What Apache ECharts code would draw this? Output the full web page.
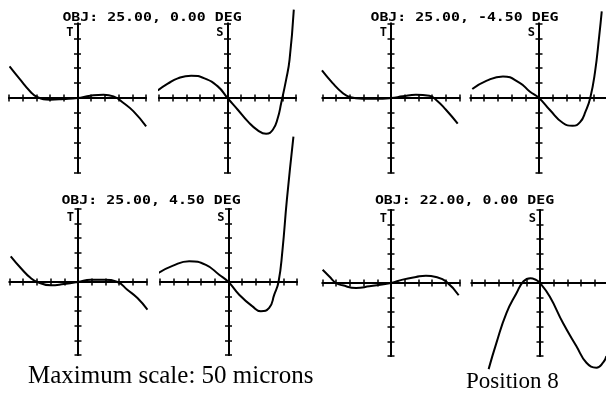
<!DOCTYPE html>
<html>
<head>
<meta charset="utf-8">
<script src="https://cdn.jsdelivr.net/npm/echarts@6/dist/echarts.min.js"></script>
<style>
  html, body { margin: 0; background: #fff; }
  #chart { width: 606px; height: 396px; }
</style>
</head>
<body>
<div id="chart"></div>
<script>
// ray fan samples: [relative pupil coordinate, ray error] in tick units
const fanT_25_0 = [[-4.96, 2.12], [-4.18, 1.23], [-3.45, 0.44], [-2.96, 0.07], [-1.99, -0.11], [-1.02, -0.07], [0, 0],
  [0.93, 0.15], [1.9, 0.22], [2.63, 0.11], [3.36, -0.34], [4.09, -0.9], [5.01, -1.9]];
const fanS_25_0 = [[-5.09, 0.51], [-4.36, 0.96], [-3.63, 1.32], [-2.65, 1.5], [-1.68, 1.32], [-0.71, 0.78], [0, 0],
  [0.75, -0.79], [1.48, -1.57], [2.21, -2.17], [2.82, -2.4], [3.31, -2.13], [3.67, -1.34], [3.92, -0.34],
  [4.28, 1.23], [4.53, 2.57], [4.84, 5.93]];

const fanT_25_m45 = [[-5.04, 1.85], [-4.26, 1.0], [-3.53, 0.34], [-3.04, 0.07], [-2.07, -0.05], [-1.09, -0.05], [0, 0],
  [0.85, 0.11], [1.82, 0.22], [2.8, 0.15], [3.28, -0.11], [4.01, -0.79], [4.87, -1.72]];
const fanS_25_m45 = [[-4.87, 0.6], [-3.85, 1.15], [-2.63, 1.45], [-1.41, 1.02], [-0.68, 0.44], [0, 0], [0.78, -0.79],
  [1.75, -1.68], [2.45, -1.86], [3.0, -1.62], [3.4, -0.9], [3.74, 0], [4.08, 1.68], [4.4, 4.2], [4.58, 5.81]];

const fanT_25_45 = [[-4.91, 1.76], [-4.18, 0.96], [-3.45, 0.27], [-2.96, 0], [-1.99, -0.23], [-1.02, -0.14], [0, 0],
  [0.93, 0.16], [1.9, 0.16], [2.88, 0], [3.6, -0.53], [4.34, -1.1], [5.07, -1.9]];
const fanS_25_45 = [[-5.11, 0.62], [-4.09, 1.1], [-2.87, 1.42], [-1.65, 1.17], [-0.68, 0.5], [0, 0], [0.78, -0.87],
  [1.75, -1.67], [2.36, -2.0], [2.97, -1.78], [3.34, -0.87], [3.65, 0], [3.94, 2.19], [4.26, 5.62], [4.74, 9.95]];

const fanT_22_0 = [[-4.99, 0.91], [-4.5, 0.45], [-4.01, 0], [-3.53, -0.16], [-2.55, -0.34], [-1.58, -0.23], [0, 0],
  [0.85, 0.23], [1.82, 0.41], [2.55, 0.5], [3.28, 0.41], [4.01, 0.11], [4.94, -0.84]];
const fanS_22_0 = [[-3.75, -5.9], [-3.18, -4.1], [-2.45, -2.06], [-1.72, -0.7], [-1.2, 0.12], [-0.7, 0.33], [-0.35, 0.24],
  [0, 0], [0.71, -0.93], [1.68, -2.74], [2.66, -4.33], [3.39, -5.46], [4.12, -5.8], [4.6, -5.46], [4.85, -5.0]];

const fieldLabels = ['OBJ: 25.00, 0.00 DEG', 'OBJ: 25.00, -4.50 DEG', 'OBJ: 25.00, 4.50 DEG', 'OBJ: 22.00, 0.00 DEG'];
const fanNames = ['T', 'S'];
const axisRange = [-5, 5];
const scaleNote = 'Maximum scale: 50 microns';
const positionNote = 'Position 8';

// layout of the four field panels (pixel boxes of each T / S plot)
const panels = [
  { lefts: [9, 159], top: 23.5, height: 149, label: [152, 17.5], fans: [fanT_25_0, fanS_25_0] },
  { lefts: [322.5, 470.5], top: 23.5, height: 149, label: [464.5, 17.5], fans: [fanT_25_m45, fanS_25_m45] },
  { lefts: [9.5, 160], top: 209, height: 146, label: [151, 201], fans: [fanT_25_45, fanS_25_45] },
  { lefts: [322.5, 471.5], top: 210, height: 146, label: [464.5, 201], fans: [fanT_22_0, fanS_22_0] }
];
const plotWidth = 137;

const ink = '#000';
const monoFont = '"DejaVu Sans Mono", monospace';

const grid = [];
const xAxis = [];
const yAxis = [];
const series = [];

function axesFor(dim, gridIndex, name) {
  const positions = dim === 'x' ? ['bottom', 'top'] : ['left', 'right'];
  // two identical axes with ticks on opposite sides -> ticks cross the line
  return positions.map((position, k) => ({
    type: 'value',
    gridIndex: gridIndex,
    position: position,
    min: axisRange[0],
    max: axisRange[1],
    interval: 1,
    axisLine: { show: true, onZero: true, lineStyle: { color: ink, width: 2 } },
    axisTick: { show: true, length: 3.5, lineStyle: { color: ink, width: 1.5 } },
    axisLabel: { show: false },
    splitLine: { show: false },
    name: k === 0 && name ? name : '',
    nameLocation: 'end',
    nameGap: -3,
    nameTextStyle: {
      fontFamily: monoFont, fontWeight: 'bold', fontSize: 12, color: ink,
      align: 'right', verticalAlign: 'top', padding: [0, 4, 0, 0]
    }
  }));
}

panels.forEach((p) => {
  p.fans.forEach((data, f) => {
    const gi = grid.length;
    grid.push({ left: p.lefts[f], top: p.top, width: plotWidth, height: p.height, outerBoundsMode: 'none', containLabel: false });
    xAxis.push(...axesFor('x', gi));
    yAxis.push(...axesFor('y', gi, fanNames[f]));
    series.push({
      type: 'line',
      xAxisIndex: 2 * gi,
      yAxisIndex: 2 * gi,
      data: data,
      symbol: 'none',
      smooth: 0.5,
      clip: false,
      silent: true,
      lineStyle: { color: ink, width: 2 }
    });
  });
});

const graphic = panels.map((p, i) => ({
  type: 'text',
  x: p.label[0],
  y: p.label[1],
  scaleX: 1.24,
  style: {
    text: fieldLabels[i], font: 'bold 12px ' + monoFont, fill: ink,
    align: 'center', verticalAlign: 'middle', textAlign: 'center', textVerticalAlign: 'middle'
  }
}));
graphic.push({
  type: 'text', x: 28, y: 376,
  style: { text: scaleNote, font: '25px "Liberation Serif", serif', fill: ink, align: 'left', verticalAlign: 'middle' }
});
graphic.push({
  type: 'text', x: 466, y: 382,
  style: { text: positionNote, font: '23px "Liberation Serif", serif', fill: ink, align: 'left', verticalAlign: 'middle' }
});

const chart = echarts.init(document.getElementById('chart'));
chart.setOption({
  animation: false,
  backgroundColor: '#fff',
  grid: grid,
  xAxis: xAxis,
  yAxis: yAxis,
  series: series,
  graphic: graphic
});
</script>
</body>
</html>
